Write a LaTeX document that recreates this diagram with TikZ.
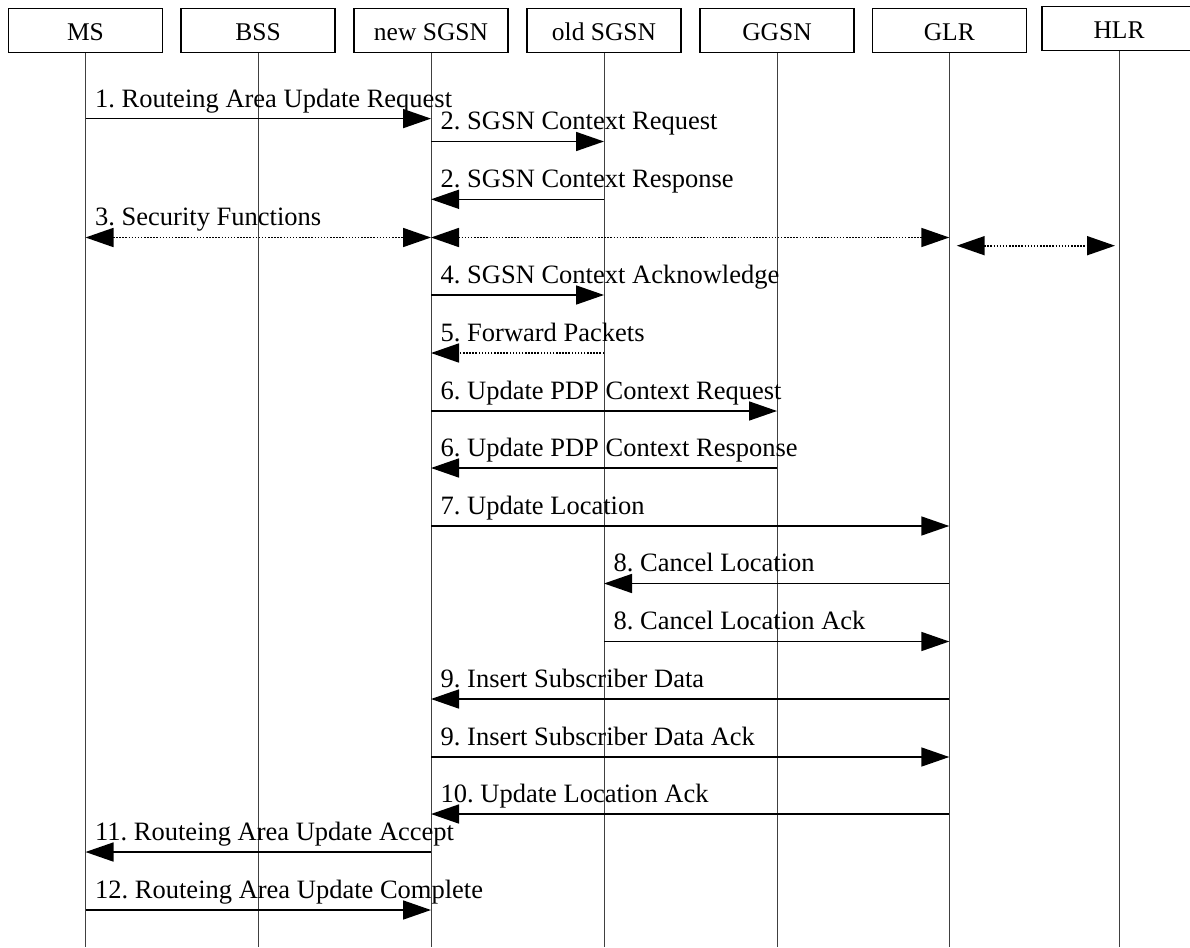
\documentclass[tikz,border=0pt]{standalone}
\usepackage{fontspec}
\setmainfont{Liberation Serif}
\usetikzlibrary{arrows.meta,calc}
\frenchspacing
\begin{document}
\begin{tikzpicture}[x=1pt,y=-1pt,
  txt/.style={font=\fontsize{26.5}{31}\selectfont},
  head/.style={font=\fontsize{25.5}{30}\selectfont,draw,line width=1.4pt,minimum width=154pt,minimum height=44pt,inner sep=0pt,text height=24.6pt,text depth=5pt},
  life/.style={line width=1pt,black!75},
  tip/.tip={Triangle[length=28pt,width=19pt]},
  msg/.style={line width=1.6pt,-tip},
  dots/.style={line width=1.7pt,dash pattern=on 1.5pt off 1.6pt,tip-tip},
  lbl/.style={txt,anchor=base west,inner sep=0pt}]
\useasboundingbox (0,0) rectangle (1190,947);
% participants
\node[head] (ms)   at (85.5,30.4)  {MS};
\node[head] (bss)  at (258.1,30.4) {BSS};
\node[head] (nsg)  at (431,30.4)   {new SGSN};
\node[head] (osg)  at (604,30.4)   {old SGSN};
\node[head] (ggsn) at (777,30.4)   {GGSN};
\node[head] (glr)  at (949.3,30.4) {GLR};
\node[head] (hlr)  at (1119,28.3)  {HLR};
\coordinate (bot) at (0,947);
\foreach \n in {ms,bss,nsg,osg,ggsn,glr,hlr}
  \draw[life] (\n.south) -- (\n.south |- bot);
% message rows
\coordinate (r1)  at (0,118.6);
\coordinate (r2)  at (0,141.5);
\coordinate (r3)  at (0,199.3);
\coordinate (r4)  at (0,237.5);
\coordinate (r4b) at (0,245.7);
\coordinate (r5)  at (0,295);
\coordinate (r6)  at (0,353);
\coordinate (r7)  at (0,411);
\coordinate (r8)  at (0,468);
\coordinate (r9)  at (0,526);
\coordinate (r10) at (0,583.5);
\coordinate (r11) at (0,641.5);
\coordinate (r12) at (0,699);
\coordinate (r13) at (0,757);
\coordinate (r14) at (0,814);
\coordinate (r15) at (0,852);
\coordinate (r16) at (0,910);
% 1
\draw[msg] (ms |- r1) -- (nsg |- r1);
\node[lbl] (l1) at ($(ms |- r1)+(9.5,-11.6)$) {1. Routeing Area Update Request};
% 2
\draw[msg] (nsg |- r2) -- (osg |- r2);
\node[lbl] (l2) at ($(nsg |- r2)+(9.5,-11.6)$) {2. SGSN Context Request};
\draw[msg] (osg |- r3) -- (nsg |- r3);
\node[lbl] (l3) at ($(nsg |- r3)+(9.5,-11.6)$) {2. SGSN Context Response};
% 3
\draw[dots] (ms |- r4) -- (nsg |- r4);
\draw[dots] (nsg |- r4) -- (glr |- r4);
\coordinate (g4) at ($(glr |- r4b)+(7.4,0)$);
\coordinate (h4) at ($(hlr |- r4b)+(-4,0)$);
\draw[dots] (g4) -- (h4);
\node[lbl] (l4) at ($(ms |- r4)+(9.5,-11.6)$) {3. Security Functions};
% 4
\draw[msg] (nsg |- r5) -- (osg |- r5);
\node[lbl] (l5) at ($(nsg |- r5)+(9.5,-11.6)$) {4. SGSN Context Acknowledge};
% 5
\draw[dots,-tip] (osg |- r6) -- (nsg |- r6);
\node[lbl] (l6) at ($(nsg |- r6)+(9.5,-11.6)$) {5. Forward Packets};
% 6
\draw[msg] (nsg |- r7) -- (ggsn |- r7);
\node[lbl] (l7) at ($(nsg |- r7)+(9.5,-11.6)$) {6. Update PDP Context Request};
\draw[msg] (ggsn |- r8) -- (nsg |- r8);
\node[lbl] (l8) at ($(nsg |- r8)+(9.5,-11.6)$) {6. Update PDP Context Response};
% 7
\draw[msg] (nsg |- r9) -- (glr |- r9);
\node[lbl] (l9) at ($(nsg |- r9)+(9.5,-11.6)$) {7. Update Location};
% 8
\draw[msg] (glr |- r10) -- (osg |- r10);
\node[lbl] (l10) at ($(osg |- r10)+(9.5,-11.6)$) {8. Cancel Location};
\draw[msg] (osg |- r11) -- (glr |- r11);
\node[lbl] (l11) at ($(osg |- r11)+(9.5,-11.6)$) {8. Cancel Location Ack};
% 9
\draw[msg] (glr |- r12) -- (nsg |- r12);
\node[lbl] (l12) at ($(nsg |- r12)+(9.5,-11.6)$) {9. Insert Subscriber Data};
\draw[msg] (nsg |- r13) -- (glr |- r13);
\node[lbl] (l13) at ($(nsg |- r13)+(9.5,-11.6)$) {9. Insert Subscriber Data Ack};
% 10
\draw[msg] (glr |- r14) -- (nsg |- r14);
\node[lbl] (l14) at ($(nsg |- r14)+(9.5,-11.6)$) {10. Update Location Ack};
% 11
\draw[msg] (nsg |- r15) -- (ms |- r15);
\node[lbl] (l15) at ($(ms |- r15)+(9.5,-11.6)$) {11. Routeing Area Update Accept};
% 12
\draw[msg] (ms |- r16) -- (nsg |- r16);
\node[lbl] (l16) at ($(ms |- r16)+(9.5,-11.6)$) {12. Routeing Area Update Complete};
\end{tikzpicture}
\end{document}
